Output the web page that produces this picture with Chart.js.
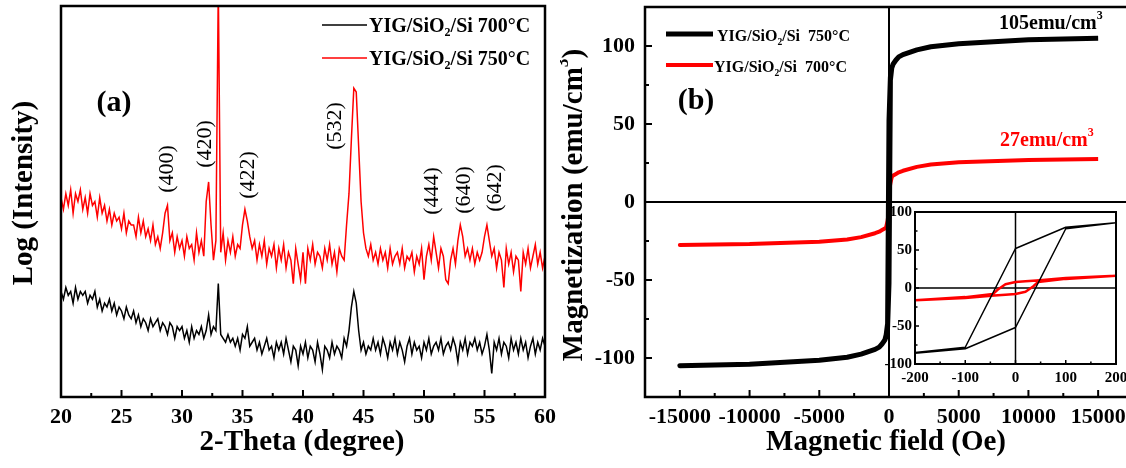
<!DOCTYPE html>
<html><head><meta charset="utf-8">
<script src="https://cdn.jsdelivr.net/npm/chart.js@4.4.0/dist/chart.umd.min.js"></script>
<style>
html,body{margin:0;padding:0;background:#fff;overflow:hidden;width:1126px;height:468px;}
#wrap{position:relative;width:1126px;height:468px;overflow:hidden;background:#fff;}
canvas{position:absolute;}
#cA{left:0;top:0;}
#cB{left:560px;top:0;}
#cI{left:880px;top:200px;}
</style></head><body>
<div id="wrap">
<canvas id="cA" width="560" height="468"></canvas>
<canvas id="cB" width="640" height="468"></canvas>
<canvas id="cI" width="246" height="190"></canvas>
</div>
<script>
// ---------- DATA ----------
// XRD, 2-theta sampled every 0.2 degree from 20 to 60 (log intensity, arbitrary units)
const thetaStart = 20;
const thetaStep = 0.2;
const xrd750 = [
51,48,52,49,53,47,52,50,53,48,
51,47,52,49,50,46,51,47,49,45,
48,44,47,45,46,43,47,42,45,44,
44,41,46,42,45,41,43,40,44,39,
41,38,42,47,49,40,42,37,41,38,
40,36,41,38,39,35,42,37,40,36,
50,55,44,35,40,105,37,42,35,40,
37,41,36,39,38,44,48,45,41,38,
40,35,39,36,40,34,38,36,39,33,
38,35,39,33,37,35,29,38,34,30,
37,29,38,35,39,34,37,36,33,38,
35,39,34,37,32,38,36,35,44,52,
66,79,78,64,50,42,38,36,39,35,
37,34,38,35,37,33,38,34,36,37,
34,38,33,36,35,37,32,36,34,38,
30,36,39,35,41,37,33,38,36,30,
29,35,38,34,40,44,41,36,38,35,
38,34,37,35,37,41,44,40,36,38,
33,37,35,28,38,34,37,32,36,35,
27,37,34,38,33,36,39,34,37,33,
36];
const xrd700 = [
27,25,28,26,27,24,28,25,27,26,
27,24,26,25,27,23,25,22,24,23,
25,22,24,21,23,22,20,23,21,20,
22,19,21,18,20,19,17,20,18,19,
20,17,19,18,16,19,18,15,18,17,
18,15,17,14,18,15,17,16,18,15,
17,21,16,18,17,29,16,15,14,16,
14,15,13,15,12,16,15,18,13,14,
15,12,14,11,13,15,12,13,10,14,
12,14,11,15,12,9,13,12,8,13,
11,14,10,13,12,9,14,11,7,13,
12,10,14,11,13,12,10,15,13,17,
23,27,24,17,12,14,11,13,12,15,
12,14,11,15,13,10,14,12,15,11,
14,12,9,13,15,11,14,12,13,10,
14,12,15,11,13,14,12,15,11,13,
14,12,15,13,9,14,12,15,11,14,
13,15,12,14,11,13,16,12,6,14,
12,15,11,14,13,10,15,12,14,11,
15,12,14,10,13,15,11,14,12,15,
13];
const thetaTicks = [20,25,30,35,40,45,50,55,60];
const peakNames = ['(400)','(420)','(422)','(532)','(444)','(640)','(642)'];
const peakTheta = [28.8,31.9,35.5,42.7,50.7,53.3,55.9];

// M-H loops (Oe, emu/cm3)
const h750Down = [15000,10000,5000,3000,2000,1000,700,500,300,200,100,0,-100,-200,-300,-500,-700,-1000,-2000,-3000,-5000,-10000,-15000];
const m750Down = [105,104,101.5,99.5,97.5,94.5,93,91,88.5,86,80,52,-78,-85,-88.5,-91,-93,-94.5,-97.5,-99.5,-101.5,-104,-105];
const h750Up   = [-15000,-10000,-5000,-3000,-2000,-1000,-700,-500,-300,-200,-100,0,100,200,300,500,700,1000,2000,3000,5000,10000,15000];
const m750Up   = [-105,-104,-101.5,-99.5,-97.5,-94.5,-93,-91,-88.5,-86,-80,-52,78,86,88.5,91,93,94.5,97.5,99.5,101.5,104,105];
const h700Down = [15000,10000,5000,3000,2000,1000,700,500,300,200,100,42,20,0,-20,-35,-45,-100,-200,-300,-500,-700,-1000,-2000,-3000,-5000,-10000,-15000];
const m700Down = [27.5,27,25.5,24,22.5,20,19,18,17,16,13,10,9,8,5,-2,-8,-12,-16,-17,-18,-19,-20,-22.5,-24,-25.5,-27,-27.5];
const h700Up   = [-15000,-10000,-5000,-3000,-2000,-1000,-700,-500,-300,-200,-100,-42,-20,0,20,35,45,100,200,300,500,700,1000,2000,3000,5000,10000,15000];
const m700Up   = [-27.5,-27,-25.5,-24,-22.5,-20,-19,-18,-17,-16,-13,-10,-9,-8,-5,2,8,12,16,17,18,19,20,22.5,24,25.5,27,27.5];
const fieldTicks = [-15000,-10000,-5000,0,5000,10000,15000];
const magTicks = [-100,-50,0,50,100];
const insetFieldTicks = [-200,-100,0,100,200];
const insetMagTicks = [-100,-50,0,50,100];

// ---------- HELPERS ----------
const FONT = '"Liberation Serif","Times New Roman",serif';
const toXY = (xs, ys) => xs.map((x, i) => ({x: x, y: ys[i]}));
const theta = xrd750.map((_, i) => +(thetaStart + thetaStep * i).toFixed(1));

function rich(ctx, x, y, parts, size, weight, color, align, rot) {
  ctx.save();
  ctx.translate(x, y); if (rot) ctx.rotate(rot);
  ctx.fillStyle = color; ctx.textBaseline = 'middle'; ctx.textAlign = 'left';
  const f = s => weight + ' ' + s + 'px ' + FONT;
  let w = 0;
  const items = parts.map(p => {
    const s = p.k ? size * 0.6 : size;
    ctx.font = f(s);
    const m = ctx.measureText(p.t).width; w += m;
    return {t: p.t, s: s, m: m, dy: p.k === 'sub' ? size * 0.32 : (p.k === 'sup' ? -size * 0.4 : 0)};
  });
  let cx = align === 'center' ? -w / 2 : (align === 'right' ? -w : 0);
  items.forEach(it => { ctx.font = f(it.s); ctx.fillText(it.t, cx, it.dy); cx += it.m; });
  ctx.restore();
}
function drawBox(chart, lw) {
  const {ctx, chartArea: a} = chart;
  ctx.save(); ctx.strokeStyle = '#000'; ctx.lineWidth = lw;
  ctx.strokeRect(a.left, a.top, a.right - a.left, a.bottom - a.top);
  ctx.restore();
}
function inwardTicks(chart, id, major, minor, lw) {
  const s = chart.scales[id]; const {ctx, chartArea: a} = chart;
  const vals = s.ticks.map(t => t.value);
  const mins = [];
  for (let i = 0; i < vals.length - 1; i++) mins.push((vals[i] + vals[i + 1]) / 2);
  ctx.save(); ctx.strokeStyle = '#000'; ctx.lineWidth = lw; ctx.beginPath();
  const put = (v, len) => {
    const p = s.getPixelForValue(v);
    if (s.isHorizontal()) { ctx.moveTo(p, a.bottom); ctx.lineTo(p, a.bottom - len); }
    else { ctx.moveTo(a.left, p); ctx.lineTo(a.left + len, p); }
  };
  vals.forEach(v => put(v, major)); mins.forEach(v => put(v, minor));
  ctx.stroke(); ctx.restore();
}
function zeroLines(chart, lw) {
  const {ctx, chartArea: a, scales} = chart;
  const x0 = scales.x.getPixelForValue(0), y0 = scales.y.getPixelForValue(0);
  ctx.save(); ctx.strokeStyle = '#000'; ctx.lineWidth = lw; ctx.beginPath();
  ctx.moveTo(x0, a.top); ctx.lineTo(x0, a.bottom);
  ctx.moveTo(a.left, y0); ctx.lineTo(a.right, y0);
  ctx.stroke(); ctx.restore();
}
const fixTicks = arr => (s => { s.ticks = arr.map(v => ({value: v})); });
const fitY = w => (s => { s.width = w; s.paddingTop = 0; s.paddingBottom = 0; });
const fitX = h => (s => { s.height = h; s.paddingLeft = 0; s.paddingRight = 0; });
const tickFont = (size) => ({family: FONT, size: size, weight: 'bold'});
Chart.defaults.animation = false;

// ---------- PANEL (a) ----------
const plugA = {
  id: 'plugA',
  afterDraw(chart) {
    const {ctx, scales} = chart;
    drawBox(chart, 2.5);
    inwardTicks(chart, 'x', 7, 4, 2);
    ctx.save(); ctx.lineWidth = 1.5;
    ctx.strokeStyle = '#000'; ctx.beginPath(); ctx.moveTo(322, 25); ctx.lineTo(367, 25); ctx.stroke();
    ctx.strokeStyle = '#ff0000'; ctx.beginPath(); ctx.moveTo(322, 58); ctx.lineTo(367, 58); ctx.stroke();
    ctx.restore();
    rich(ctx, 369, 27, [{t: 'YIG/SiO'}, {t: '2', k: 'sub'}, {t: '/Si 700\u00B0C'}], 20, 'bold', '#000', 'left');
    rich(ctx, 369, 60, [{t: 'YIG/SiO'}, {t: '2', k: 'sub'}, {t: '/Si 750\u00B0C'}], 20, 'bold', '#000', 'left');
    rich(ctx, 114, 103, [{t: '(a)'}], 30, 'bold', '#000', 'center');
    const labelY = [169, 144, 175, 126, 191, 190, 188];
    peakNames.forEach((n, i) => {
      rich(ctx, scales.x.getPixelForValue(peakTheta[i]), labelY[i], [{t: n}], 22, 'normal', '#000', 'center', -Math.PI / 2);
    });
    rich(ctx, 302, 443, [{t: '2-Theta (degree)'}], 29, 'bold', '#000', 'center');
    rich(ctx, 25, 193, [{t: 'Log (Intensity)'}], 29, 'bold', '#000', 'center', -Math.PI / 2);
  }
};
new Chart(document.getElementById('cA'), {
  type: 'line',
  data: {datasets: [
    {label: 'YIG/SiO2/Si 700\u00B0C', data: toXY(theta, xrd700), borderColor: '#000', borderWidth: 1.5, pointRadius: 0, tension: 0},
    {label: 'YIG/SiO2/Si 750\u00B0C', data: toXY(theta, xrd750), borderColor: '#ff0000', borderWidth: 1.5, pointRadius: 0, tension: 0}
  ]},
  options: {
    responsive: false, animation: false,
    layout: {padding: {top: 6, right: 15, left: 0, bottom: 0}},
    plugins: {legend: {display: false}, tooltip: {enabled: false}},
    scales: {
      x: {type: 'linear', min: 20, max: 60, afterBuildTicks: fixTicks(thetaTicks),
          ticks: {font: tickFont(22), color: '#000', padding: 7, maxRotation: 0, autoSkip: false, callback: v => String(v)},
          grid: {display: false, drawTicks: false}, border: {display: false},
          afterFit: fitX(71)},
      y: {type: 'linear', min: 0, max: 100, ticks: {display: false},
          grid: {display: false, drawTicks: false}, border: {display: false},
          afterFit: fitY(61)}
    }
  },
  plugins: [plugA]
});

// ---------- PANEL (b) ----------
const plugB = {
  id: 'plugB',
  beforeDatasetsDraw(chart) { zeroLines(chart, 2); },
  afterDraw(chart) {
    const {ctx} = chart;
    drawBox(chart, 2.5);
    inwardTicks(chart, 'x', 7, 4, 2);
    inwardTicks(chart, 'y', 7, 4, 2);
    ctx.save();
    ctx.strokeStyle = '#000'; ctx.lineWidth = 5; ctx.beginPath(); ctx.moveTo(106, 34); ctx.lineTo(153, 34); ctx.stroke();
    ctx.strokeStyle = '#ff0000'; ctx.lineWidth = 4; ctx.beginPath(); ctx.moveTo(106, 65); ctx.lineTo(153, 65); ctx.stroke();
    ctx.restore();
    rich(ctx, 157, 37, [{t: 'YIG/SiO'}, {t: '2', k: 'sub'}, {t: '/Si  750\u00B0C'}], 16, 'bold', '#000', 'left');
    rich(ctx, 154, 68, [{t: 'YIG/SiO'}, {t: '2', k: 'sub'}, {t: '/Si  700\u00B0C'}], 16, 'bold', '#000', 'left');
    rich(ctx, 136, 101, [{t: '(b)'}], 30, 'bold', '#000', 'center');
    rich(ctx, 439, 24, [{t: '105emu/cm'}, {t: '3', k: 'sup'}], 20, 'bold', '#000', 'left');
    rich(ctx, 440, 141, [{t: '27emu/cm'}, {t: '3', k: 'sup'}], 20, 'bold', '#ff0000', 'left');
    rich(ctx, 326, 443, [{t: 'Magnetic field (Oe)'}], 29, 'bold', '#000', 'center');
    rich(ctx, 15, 205, [{t: 'Magnetization (emu/cm'}, {t: '3', k: 'sup'}, {t: ')'}], 29, 'bold', '#000', 'center', -Math.PI / 2);
  }
};
const mhDatasets = (w750, w700) => [
  {label: 'YIG/SiO2/Si 750\u00B0C', data: toXY(h750Down.concat(h750Up), m750Down.concat(m750Up)), borderColor: '#000', borderWidth: w750, pointRadius: 0, tension: 0, borderJoinStyle: 'round'},
  {label: 'YIG/SiO2/Si 700\u00B0C', data: toXY(h700Down.concat(h700Up), m700Down.concat(m700Up)), borderColor: '#ff0000', borderWidth: w700, pointRadius: 0, tension: 0, borderJoinStyle: 'round'}
];
new Chart(document.getElementById('cB'), {
  type: 'line',
  data: {datasets: mhDatasets(5, 4)},
  options: {
    responsive: false, animation: false,
    layout: {padding: {top: 7, right: 67, left: 0, bottom: 0}},
    plugins: {legend: {display: false}, tooltip: {enabled: false}},
    scales: {
      x: {type: 'linear', min: -17500, max: 17500, afterBuildTicks: fixTicks(fieldTicks),
          ticks: {font: tickFont(22), color: '#000', padding: 7, maxRotation: 0, autoSkip: false, callback: v => String(v)},
          grid: {display: false, drawTicks: false}, border: {display: false},
          afterFit: fitX(71)},
      y: {type: 'linear', min: -125, max: 125, afterBuildTicks: fixTicks(magTicks),
          ticks: {font: tickFont(22), color: '#000', padding: 10, callback: v => String(v)},
          grid: {display: false, drawTicks: false}, border: {display: false},
          afterFit: fitY(85)}
    }
  },
  plugins: [plugB]
});

// ---------- INSET ----------
const plugI = {
  id: 'plugI',
  beforeDraw(chart) {
    const {ctx, chartArea: a} = chart;
    ctx.save(); ctx.fillStyle = '#fff'; ctx.fillRect(a.left, a.top, a.right - a.left, a.bottom - a.top); ctx.restore();
  },
  beforeDatasetsDraw(chart) { zeroLines(chart, 1.5); },
  afterDraw(chart) {
    drawBox(chart, 2);
    inwardTicks(chart, 'x', 4, 2.5, 1.5);
    inwardTicks(chart, 'y', 4, 2.5, 1.5);
  }
};
new Chart(document.getElementById('cI'), {
  type: 'line',
  data: {datasets: mhDatasets(1.5, 2.5)},
  options: {
    responsive: false, animation: false,
    layout: {padding: {top: 12, right: 10, left: 0, bottom: 0}},
    plugins: {legend: {display: false}, tooltip: {enabled: false}},
    scales: {
      x: {type: 'linear', min: -200, max: 200, afterBuildTicks: fixTicks(insetFieldTicks),
          ticks: {font: tickFont(15), color: '#000', padding: 5, maxRotation: 0, autoSkip: false, callback: v => String(v)},
          grid: {display: false, drawTicks: false}, border: {display: false},
          afterFit: fitX(26)},
      y: {type: 'linear', min: -100, max: 100, afterBuildTicks: fixTicks(insetMagTicks),
          ticks: {font: tickFont(15), color: '#000', padding: 3, callback: v => String(v)},
          grid: {display: false, drawTicks: false}, border: {display: false},
          afterFit: fitY(35)}
    }
  },
  plugins: [plugI]
});
</script>
</body></html>
